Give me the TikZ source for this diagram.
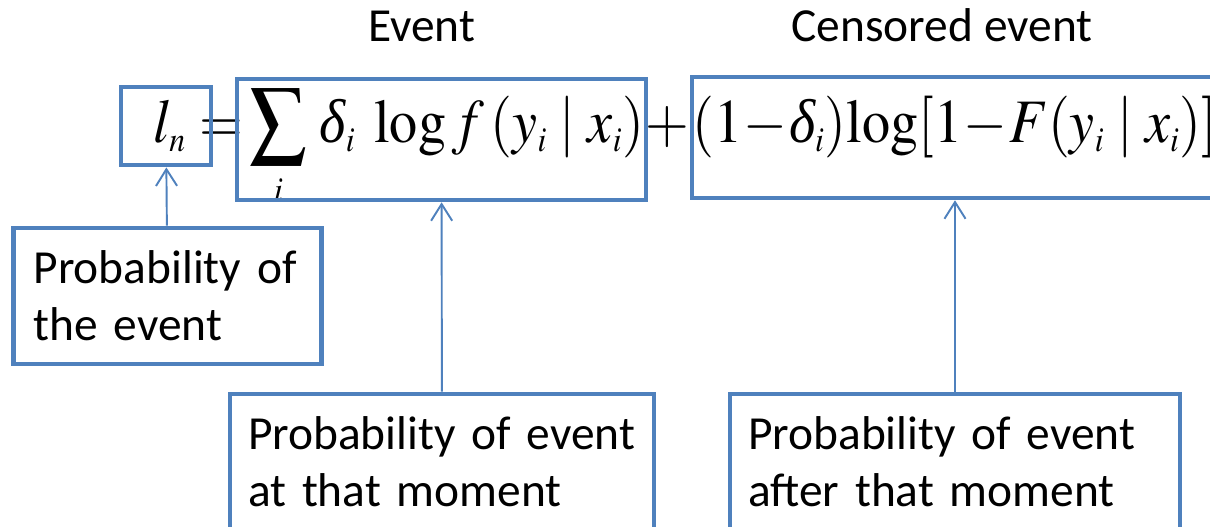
\documentclass[tikz,border=0pt]{standalone}
\usepackage{mathptmx}
\usepackage[no-math]{fontspec}
\setmainfont{Carlito}
\newfontfamily\tnr{Liberation Serif}
\usetikzlibrary{arrows.meta,positioning}
\definecolor{boxblue}{RGB}{79,129,189}
\DeclareMathSizes{32}{32}{18}{14}
\newcommand{\dlt}{\mbox{\tnr\itshape δ}}
\newcommand{\tallmath}[1]{\scalebox{1}[1.1]{$#1$}}

\begin{document}
\begin{tikzpicture}[
    x=0.02cm, y=-0.02cm,
    termbox/.style={rectangle, draw=boxblue, line width=2.6pt, inner sep=0pt},
    expl/.style={rectangle, draw=boxblue, line width=2.6pt, align=left, minimum height=2.72cm, inner xsep=0.36cm, font=\fontsize{27}{32.5}\selectfont},
    head/.style={anchor=base, inner sep=0pt, font=\fontsize{27}{32.5}\selectfont},
    term/.style={anchor=base, inner sep=0pt, font=\fontsize{32}{38}\selectfont},
    arrow/.style={-{Straight Barb[length=9.5pt,width=12pt]}, draw=boxblue, line width=1.1pt}
]
    \useasboundingbox (0,0) rectangle (1210,527);

    % headings
    \node[head] (evhead) at (421.5,42) {Event};
    \node[head] (cehead) at (942,42) {Censored event};

    % the likelihood
    \node[term] (lnterm) at (170,142) {\tallmath{l_n}};
    \node[term] (eqsign) at (221,142) {\tallmath{=}};
    \node[term] (evterm) at (447,142) {\tallmath{\displaystyle\sum_i\,\dlt_i\;\log f\,(y_i \mid x_i)}};
    \node[term] (plussign) at (667,142) {\tallmath{+}};
    \node[term, anchor=base west] (ceterm) at (692,142) {\tallmath{(1\!-\!\dlt_i)\mathrm{log}[1\!-\!F(y_i \mid x_i)]}};

    % boxes round the terms
    \node[termbox, minimum width=1.806cm, minimum height=1.566cm] (lnbox) at (166,126) {};
    \node[termbox, minimum width=8.18cm, minimum height=2.42cm] (evbox) at (441.5,139.5) {};
    \node[termbox, minimum width=10.56cm, minimum height=2.42cm] (cebox) at (956,137.5) {};

    % explanations
    \node[expl, text width=5.36cm, inner xsep=0.4cm] (probbox) at (167.5,296) {Probability of\\the event};
    \node[expl, text width=7.76cm] (atbox) at (442,462) {Probability of event\\at that moment};
    \node[expl, text width=8.28cm] (afterbox) at (955,462) {Probability of event\\after that moment};

    \draw[arrow] (probbox) -- (lnbox);
    \draw[arrow] (atbox) -- (evbox);
    \draw[arrow] (afterbox) -- (afterbox |- cebox.south);
\end{tikzpicture}
\end{document}
